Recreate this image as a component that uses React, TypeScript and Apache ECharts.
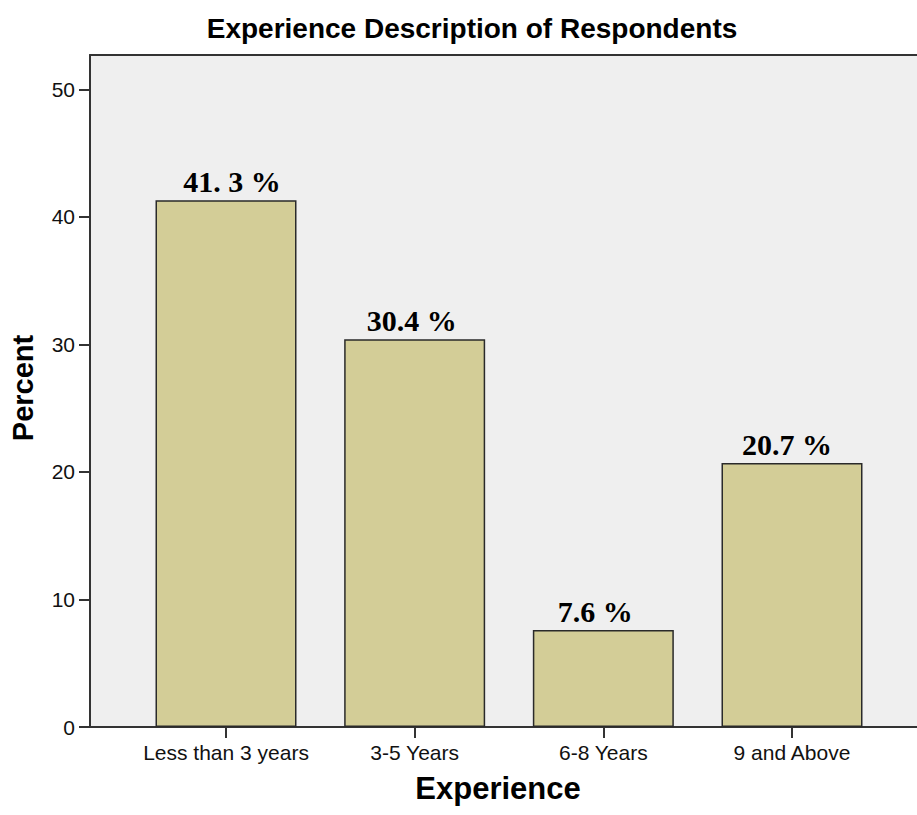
import React, { useEffect, useRef } from "react";
import * as echarts from "echarts";

const categories = ["Less than 3 years", "3-5 Years", "6-8 Years", "9 and Above"];
const percentValues = [41.3, 30.4, 7.6, 20.7];
const barLabels = ["41. 3 %", "30.4 %", "7.6 %", "20.7 %"];
const yTicks = [0, 10, 20, 30, 40, 50];
const yMax = 52.7;

// small manual nudges of the annotation texts, as in the original
const labelNudges = [[6, 0], [-3, 0], [-8, 0], [-5, 0]];

export default function App() {
  const ref = useRef<HTMLDivElement>(null);
  useEffect(() => {
    document.body.style.margin = "0";
    const chart = echarts.init(ref.current!, undefined, { renderer: "svg" });
    const sans = "Liberation Sans, Arial, sans-serif";
    const frameLine = { show: true, onZero: false, lineStyle: { color: "#333", width: 2 } };
    chart.setOption({
      animation: false,
      backgroundColor: "#ffffff",
      title: {
        text: "Experience Description of Respondents",
        left: 467,
        textAlign: "center",
        top: 9,
        textStyle: { fontFamily: sans, fontSize: 28, fontWeight: "bold", color: "#000" },
      },
      grid: [
        { left: 131.67, right: 30.67, top: 55, bottom: 88, show: false, outerBoundsMode: "none" },
        {
          left: 90, right: -14, top: 55, bottom: 88, show: true, outerBoundsMode: "none",
          backgroundColor: "#efefef", borderWidth: 0, borderColor: "transparent", z: 0,
        },
      ],
      xAxis: [
        {
          type: "category",
          gridIndex: 0,
          data: categories,
          axisLine: { show: false },
          axisTick: { show: true, alignWithLabel: true, length: 11, lineStyle: { color: "#333", width: 2 } },
          axisLabel: { interval: 0, fontFamily: sans, fontSize: 21, color: "#111", margin: 15 },
        },
        {
          type: "value", gridIndex: 1, min: 0, max: 1, position: "bottom",
          axisLine: frameLine, axisTick: { show: false }, axisLabel: { show: false }, splitLine: { show: false },
        },
        {
          type: "value", gridIndex: 1, min: 0, max: 1, position: "top",
          axisLine: frameLine, axisTick: { show: false }, axisLabel: { show: false }, splitLine: { show: false },
        },
      ],
      yAxis: [
        { type: "value", gridIndex: 0, min: 0, max: yMax, show: false, splitLine: { show: false } },
        {
          type: "value",
          gridIndex: 1,
          min: 0,
          max: yMax,
          position: "left",
          axisLine: frameLine,
          axisTick: { show: true, length: 11, lineStyle: { color: "#333", width: 2 }, customValues: yTicks },
          axisLabel: { fontFamily: sans, fontSize: 21, color: "#111", margin: 15, customValues: yTicks },
          splitLine: { show: false },
        },
      ],
      graphic: [
        {
          type: "text",
          rotation: Math.PI / 2,
          style: {
            text: "Percent",
            font: "bold 29px Liberation Sans, Arial, sans-serif",
            fill: "#000",
            textAlign: "center",
            textVerticalAlign: "middle",
          },
          x: 23, y: 388,
        },
        {
          type: "text",
          style: {
            text: "Experience",
            font: "bold 31px Liberation Sans, Arial, sans-serif",
            fill: "#000",
            textAlign: "center",
            textVerticalAlign: "middle",
          },
          x: 498, y: 788,
        },
      ],
      series: [
        {
          type: "bar",
          xAxisIndex: 0,
          yAxisIndex: 0,
          data: percentValues.map((v, i) => ({
            value: v,
            label: { offset: labelNudges[i] },
          })),
          barWidth: 141,
          z: 5,
          itemStyle: { color: "#d3cd97", borderColor: "#2a2a2a", borderWidth: 1.5 },
          label: {
            show: true,
            position: "top",
            distance: 4,
            formatter: (p: any) => barLabels[p.dataIndex],
            fontFamily: "Liberation Serif, Times New Roman, serif",
            fontWeight: "bold",
            fontSize: 30,
            color: "#000",
          },
        },
      ],
    });
    return () => chart.dispose();
  }, []);
  return <div ref={ref} style={{ width: 917, height: 815 }} />;
}
